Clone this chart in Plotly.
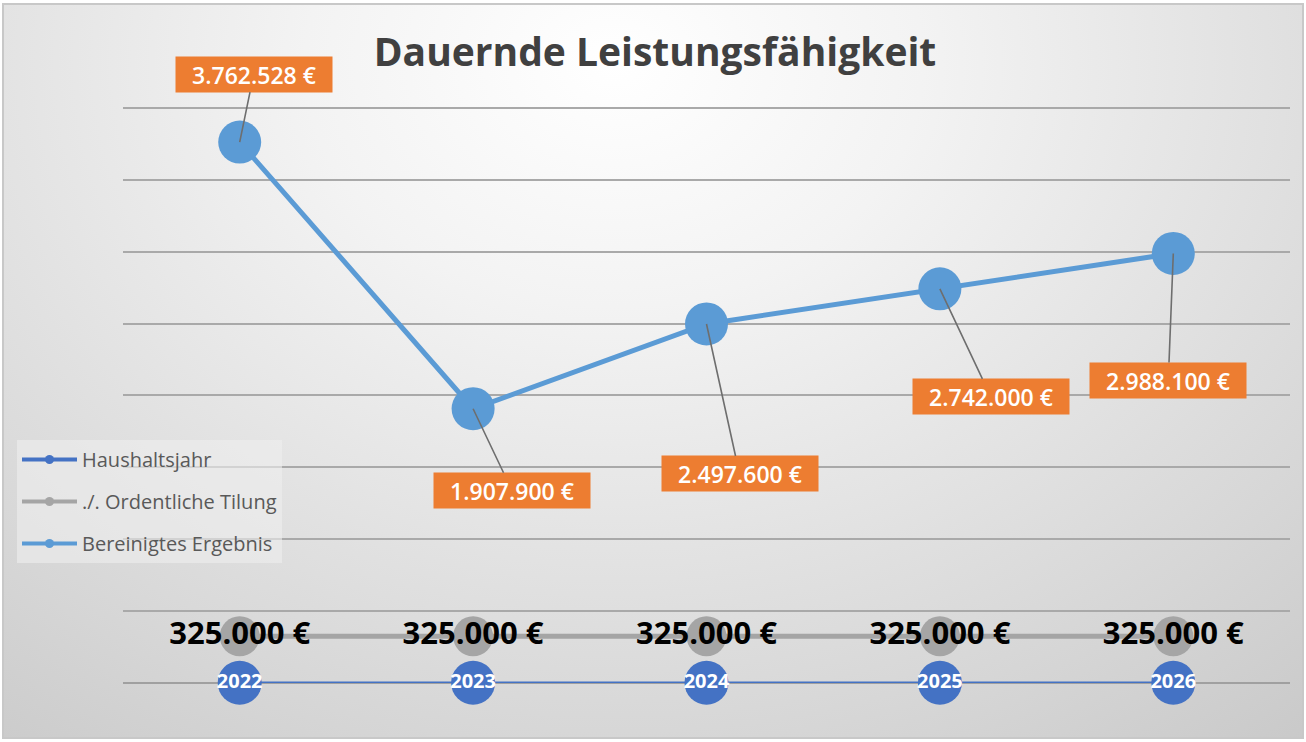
# Dauernde Leistungsfähigkeit – line chart with data labels (Plotly)
import base64
import plotly.graph_objects as go

# START_BLOCK_DATA: [Werte aus dem Diagramm]
jahre = ["2022", "2023", "2024", "2025", "2026"]
haushaltsjahr = [2022, 2023, 2024, 2025, 2026]
tilgung = [325000, 325000, 325000, 325000, 325000]
ergebnis = [3762528, 1907900, 2497600, 2742000, 2988100]
serien_namen = ["Haushaltsjahr", "./. Ordentliche Tilung", "Bereinigtes Ergebnis"]
# END_BLOCK_DATA

# label offsets (px) of the orange data labels relative to their point
label_dx = [14, 39, 33, 51, -5]
label_dy = [-68, 82, 150, 108, 127]

W, H = 1306, 742
M_L, M_R, M_T, M_B = 123, 16, 100, 59
PW, PH = W - M_L - M_R, H - M_T - M_B
# 72 px per 500.000 € ; the 4 Mio gridline sits at y=108
Y_TOP = 4000000 + (108 - M_T) * 500000 / 72

C_JAHR = "#4472C4"
C_TILG = "#A5A5A5"
C_ERG = "#5B9BD5"
C_LABEL = "#ED7D31"
FONT = "Open Sans"


def euro(v):
    return f"{v:,.0f} €".replace(",", ".")


# START_BLOCK_BACKGROUND: [Radialer Verlauf als SVG-Bild]
svg = f"""<svg xmlns='http://www.w3.org/2000/svg' width='{W}' height='{H}' viewBox='0 0 {W} {H}' preserveAspectRatio='none'>
<defs><radialGradient id='g' cx='0.47' cy='0.08' r='0.95' gradientTransform='translate(0.47 0.08) scale(1 1.4) translate(-0.47 -0.08)'>
<stop offset='0' stop-color='#ffffff'/><stop offset='0.25' stop-color='#f3f3f3'/>
<stop offset='0.7' stop-color='#d6d6d6'/><stop offset='1' stop-color='#c2c2c2'/></radialGradient></defs>
<rect x='0' y='0' width='{W}' height='{H}' fill='#ffffff'/>
<rect x='3' y='4' width='{W - 6}' height='{H - 8}' fill='url(#g)' stroke='#c8c8c8' stroke-width='2'/>
</svg>"""
bg_src = "data:image/svg+xml;base64," + base64.b64encode(svg.encode()).decode()
# END_BLOCK_BACKGROUND

fig = go.Figure()

# START_BLOCK_TRACES
fig.add_trace(go.Scatter(
    x=jahre, y=haushaltsjahr, mode="lines+markers+text", name=serien_namen[0],
    line=dict(color=C_JAHR, width=2.5), marker=dict(size=44, color=C_JAHR),
    text=[str(v) for v in haushaltsjahr], textposition="middle center",
    textfont=dict(family=FONT, size=20, color="white", weight="bold"),
    showlegend=False, cliponaxis=False, hoverinfo="skip",
))
fig.add_trace(go.Scatter(
    x=jahre, y=tilgung, mode="lines+markers+text", name=serien_namen[1],
    line=dict(color=C_TILG, width=5), marker=dict(size=40, color=C_TILG),
    text=[euro(v) for v in tilgung], textposition="middle center",
    textfont=dict(family=FONT, size=31, color="black", weight="bold"),
    showlegend=False, cliponaxis=False, hoverinfo="skip",
))
fig.add_trace(go.Scatter(
    x=jahre, y=ergebnis, mode="lines+markers", name=serien_namen[2],
    line=dict(color=C_ERG, width=5), marker=dict(size=43, color=C_ERG),
    showlegend=False, cliponaxis=False, hoverinfo="skip",
))

# legend entries with small markers
for nm, col in zip(serien_namen, [C_JAHR, C_TILG, C_ERG]):
    fig.add_trace(go.Scatter(
        x=[None], y=[None], mode="lines+markers", name=nm,
        line=dict(color=col, width=4), marker=dict(size=9, color=col),
        legendgroup=nm,
    ))
# END_BLOCK_TRACES

# START_BLOCK_LABELS
for i, (v, dx, dy) in enumerate(zip(ergebnis, label_dx, label_dy)):
    fig.add_annotation(
        x=i, y=v, xref="x", yref="y", text=euro(v), showarrow=True, ax=dx, ay=dy,
        arrowhead=0, arrowwidth=1.6, arrowcolor="#6e6e6e", standoff=0,
        bgcolor=C_LABEL, borderpad=3, width=150, height=29,
        font=dict(family=FONT, size=23, color="white", weight=600),
    )
# END_BLOCK_LABELS

fig.add_layout_image(dict(
    source=bg_src, xref="paper", yref="paper",
    x=-M_L / PW, y=1 + M_T / PH, sizex=W / PW, sizey=H / PH,
    xanchor="left", yanchor="top", sizing="stretch", layer="below",
))

fig.update_layout(
    width=W, height=H,
    margin=dict(l=M_L, r=M_R, t=M_T, b=M_B),
    paper_bgcolor="#d0d0d0", plot_bgcolor="rgba(0,0,0,0)",
    title=dict(
        text="Dauernde Leistungsfähigkeit", x=655 / W, xref="container", xanchor="center",
        y=1 - 52 / H, yref="container", yanchor="middle",
        font=dict(family=FONT, size=39, color="#404040", weight="bold"),
    ),
    xaxis=dict(type="category", range=[-0.5, 4.5], showticklabels=False,
               showgrid=False, zeroline=False, showline=False, fixedrange=True),
    yaxis=dict(range=[0, Y_TOP], tickvals=[500000 * k for k in range(9)], showticklabels=False,
               showgrid=True, gridcolor="#a9a9a9", gridwidth=1.5,
               zeroline=True, zerolinecolor="#a0a0a0", zerolinewidth=1.5,
               showline=False, fixedrange=True),
    legend=dict(
        x=(17 - M_L) / PW, y=(H - M_B - 440) / PH, xanchor="left", yanchor="top",
        bgcolor="rgba(238,238,238,0.6)", font=dict(family=FONT, size=20, color="#595959"),
        itemwidth=55, traceorder="grouped", tracegroupgap=13,
    ),
    hovermode=False,
)

fig.write_html("out.html", config={"displayModeBar": False},
               post_script="document.body.style.margin='0';")
